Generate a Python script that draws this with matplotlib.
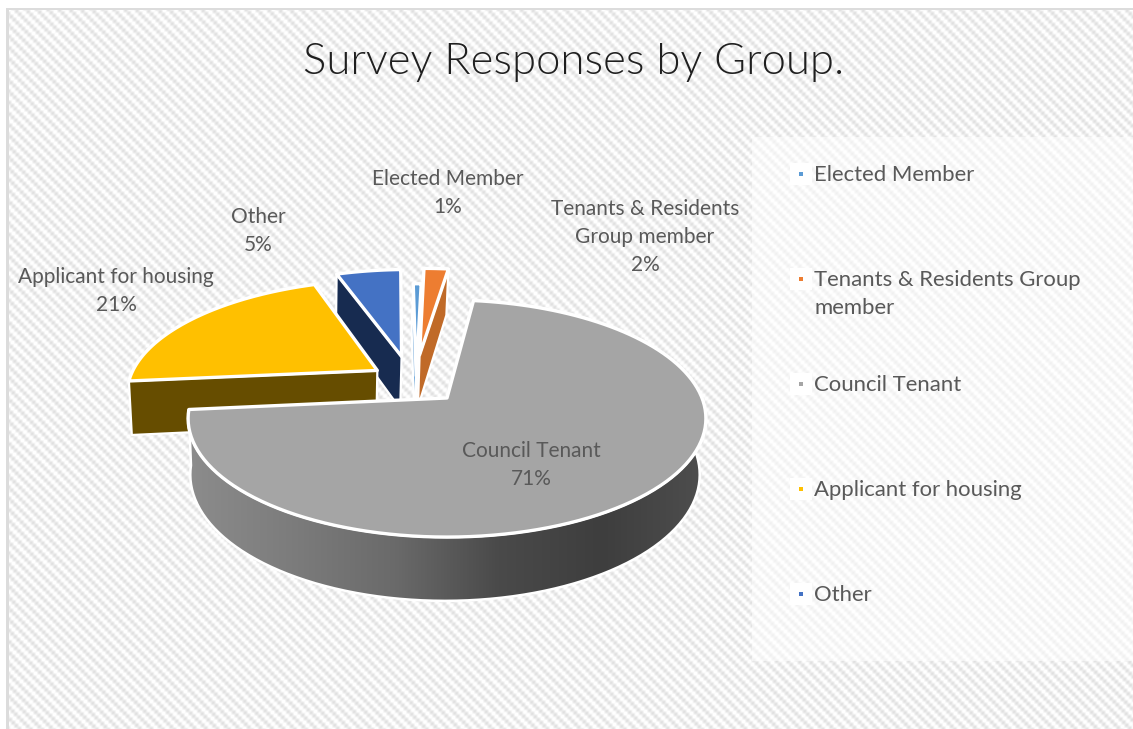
"""
Survey responses as an exploded 3D style pie, drawn with a small perspective projection.
"""

import numpy as np
import matplotlib
matplotlib.use('Agg')
import matplotlib.pyplot as plt
from matplotlib.colors import LinearSegmentedColormap
from matplotlib.patches import Polygon, Rectangle

W, H = 1133, 729

categories = ['Elected Member', 'Tenants & Residents Group member', 'Council Tenant',
              'Applicant for housing', 'Other']
values = [0.6, 1.9, 71.49, 21.01, 5.0]

top_colors = ['#5b9bd5', '#ed7d31', '#a5a5a5', '#ffc000', '#4472c4']
side_colors = ['#5b9bd5', '#c06a28', '#7f7f7f', '#664d00', '#172b50']
explode = [(-0.125, -0.20), (-0.115, -0.40), (0, 0), (-0.285, -0.25), (-0.19, -0.385)]
cut_faces = [(0, -1), (-1,), (), (0,), (0,)]

label_text = ['Elected Member', 'Tenants & Residents\nGroup member', 'Council Tenant',
              'Applicant for housing', 'Other']
label_pos = [(448, 193), (645, 237), (531, 465), (116, 291), (258, 231)]
legend_text = ['Elected Member', 'Tenants & Residents Group\nmember', 'Council Tenant',
               'Applicant for housing', 'Other']
legend_y = [175, 294, 385, 490, 595]
legend_mark_y = [174, 279, 384, 489, 594]

START = 7.0 - 360 * (values[0] + values[1]) / 100
CX, CY, RX, RY, K, DEPTH, SHRINK = 447, 398, 255, 115, 0.173, 56, 0.016

plt.rcParams['font.family'] = ['Lato', 'Open Sans', 'DejaVu Sans']


def project(u, v, low=False):
    """Table plane (u, v) to image pixels; low means the underside of the pie."""
    w = 1 - K * v + (SHRINK if low else 0)
    return CX - (2 if low else 0) + RX * u / w, CY + (RY * v + (DEPTH if low else 0)) / w


def rim(a0, a1, shift, low=False, n=120):
    t = np.radians(np.linspace(a0, a1, n))
    return project(np.sin(t) + shift[0], -np.cos(t) + shift[1], low)


def fill(ax, x, y, color, z, edge='white', lw=1.6):
    ax.add_patch(Polygon(np.column_stack([x, y]), closed=True, facecolor=color,
                         edgecolor=edge, linewidth=lw, joinstyle='round', zorder=z))


def draw_slice(ax, a0, a1, shift, top, side, faces, z):
    ax_, ay_ = project(shift[0], shift[1])
    bx_, by_ = project(shift[0], shift[1], True)
    tx, ty = rim(a0, a1, shift)
    lx, ly = rim(a0, a1, shift, True)

    if side == 'gradient':
        body = Polygon(np.column_stack([np.r_[tx, lx[::-1]], np.r_[ty, ly[::-1]]]),
                       closed=True, facecolor='none', edgecolor='white', linewidth=1.8, zorder=z + 0.1)
        ax.add_patch(body)
        cmap = LinearSegmentedColormap.from_list(
            'side', ['#8c8c8c', '#7c7c7c', '#6a6a6a', '#4a4a4a', '#3e3e3e', '#4e4e4e'])
        im = ax.imshow(np.linspace(0, 1, 256)[None, :], cmap=cmap, aspect='auto',
                       extent=(tx.min(), tx.max(), ly.max() + 5, CY), zorder=z)
        im.set_clip_path(body)
    else:
        for i in faces:
            fill(ax, [ax_, tx[i], lx[i], bx_], [ay_, ty[i], ly[i], by_], side, z)
    fill(ax, np.r_[ax_, tx], np.r_[ay_, ty], top, z + 0.2, lw=2.4)


fig = plt.figure(figsize=(W / 100, H / 100), dpi=100)
ax = fig.add_axes([0, 0, 1, 1])
ax.set_xlim(0, W)
ax.set_ylim(H, 0)
ax.axis('off')

# woven diagonal background of the chart area
yy, xx = np.mgrid[0:H, 0:W]
stripe = 0.5 + 0.5 * np.cos(2 * np.pi * (xx - yy) / 11.0)
weave = 0.5 + 0.5 * np.cos(2 * np.pi * (xx + yy) / 6.0)
shade = 0.875 + 0.125 * np.clip(stripe * 0.85 + weave * 0.35, 0, 1)
ax.imshow(shade, cmap='gray', vmin=0, vmax=1, extent=(0, W, H, 0), aspect='auto',
          interpolation='nearest', zorder=0)
ax.set_xlim(0, W)
ax.set_ylim(H, 0)
ax.add_patch(Rectangle((0, 0), W, 8, facecolor='white', edgecolor='none', zorder=0.5))
ax.add_patch(Rectangle((0, 0), 6, H, facecolor='white', edgecolor='none', zorder=0.5))
ax.add_patch(Rectangle((6, 8), W, 2, facecolor='#dcdcdc', edgecolor='none', zorder=0.6))
ax.add_patch(Rectangle((6, 8), 2.5, H, facecolor='#dcdcdc', edgecolor='none', zorder=0.6))
ax.add_patch(Rectangle((752, 137), W - 752, 524, facecolor='white', alpha=0.55,
                       edgecolor='none', zorder=0.7))

# back slices first, the council tenant slice goes over them
bounds = START + np.cumsum([0] + values) * 3.6
order = [4, 3, 0, 1, 2]
for rank, i in enumerate(order):
    side = 'gradient' if i == 2 else side_colors[i]
    draw_slice(ax, bounds[i], bounds[i + 1], explode[i], top_colors[i], side, cut_faces[i], 2 + rank)

for i, (x, y) in enumerate(label_pos):
    ax.text(x, y, f'{label_text[i]}\n{round(values[i])}%', ha='center', va='center',
            fontsize=15, color='#595959', linespacing=1.52, zorder=10)

for i, name in enumerate(legend_text):
    ax.add_patch(Rectangle((790, legend_mark_y[i] - 11), 22, 22, facecolor='white',
                           edgecolor='none', zorder=1))
    ax.scatter([801], [legend_mark_y[i]], marker='s', s=11, color=top_colors[i], linewidths=0, zorder=2)
    ax.text(814, legend_y[i], name, ha='left', va='center', fontsize=15.9, color='#595959',
            linespacing=1.45, zorder=10)

ax.text(574, 62, 'Survey Responses by Group.', ha='center', va='center', fontsize=31.4,
        fontweight=300, color='#1f1f1f', zorder=10)

fig.savefig('out.png', dpi=100)
